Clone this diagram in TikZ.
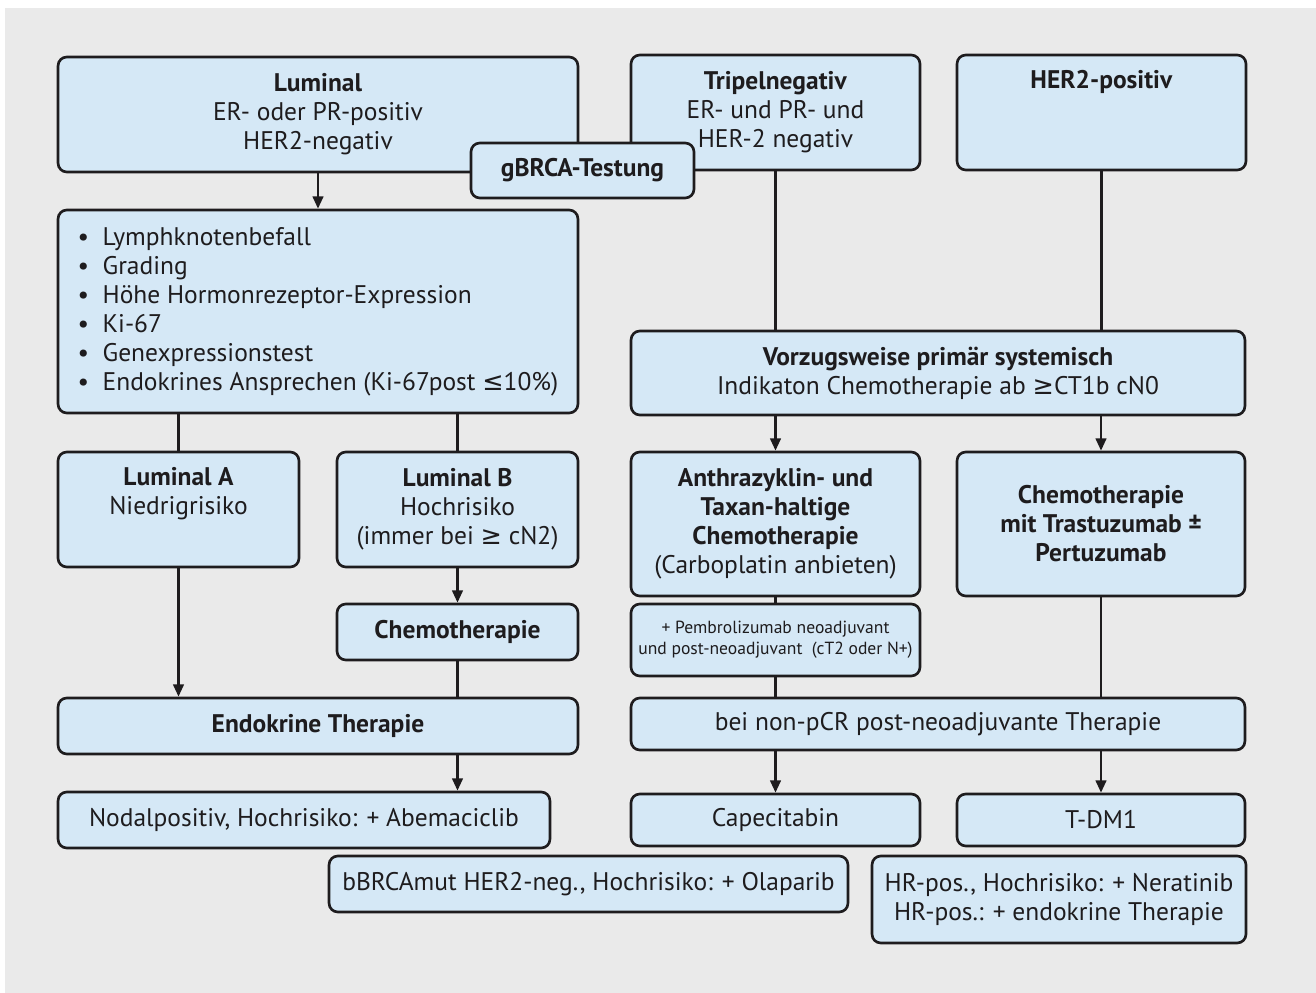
\documentclass[tikz,border=0pt]{standalone}
\usepackage{fontspec}
\setmainfont{PT Sans}
\newfontfamily\symfont{DejaVu Sans}
\usetikzlibrary{arrows.meta}
\definecolor{boxblue}{RGB}{213,232,246}
\definecolor{bggray}{RGB}{234,234,234}
\definecolor{ink}{RGB}{30,28,30}
\tikzset{
  box/.style={draw=ink, fill=boxblue, rounded corners=5pt, line width=1.5pt, align=center,
    inner sep=2pt, text=ink, font=\fontsize{14.5}{16.5}\selectfont},
  conn/.style={draw=ink, line width=1.4pt},
  arr/.style={conn, -{Triangle[length=7pt,width=6pt]}}
}
\begin{document}
\begin{tikzpicture}[x=0.02cm,y=-0.02cm]
\fill[white] (0,0) rectangle (1316,993);
\fill[bggray] (5,8) rectangle (1316,993);
\useasboundingbox (0,0) rectangle (1316,993);

\node (lum) [box, minimum width=10.4cm, minimum height=2.3cm] at (318,114.5) {\textbf{Luminal}\\ER- oder PR-positiv\\HER2-negativ};
\node (tripel) [box, minimum width=5.78cm, minimum height=2.3cm] at (775.5,112.5) {\textbf{Tripelnegativ}\\ER- und PR- und\\HER-2 negativ};
\node (her2) [box, minimum width=5.78cm, minimum height=2.3cm] at (1101.5,112.5) {\textbf{HER2-positiv}\\ \strut\\ \strut};
\node (gbrca) [box, minimum width=4.46cm, minimum height=1.1cm] at (582.5,170.5) {\textbf{gBRCA-Testung}};
\node (crit) [box, align=left, minimum width=10.4cm, minimum height=4.06cm] at (318,311.5) {%
  \makebox[0.5cm][l]{\textbullet}Lymphknotenbefall\\
  \makebox[0.5cm][l]{\textbullet}Grading\\
  \makebox[0.5cm][l]{\textbullet}Höhe Hormonrezeptor-Expression\\
  \makebox[0.5cm][l]{\textbullet}Ki-67\\
  \makebox[0.5cm][l]{\textbullet}Genexpressionstest\\
  \makebox[0.5cm][l]{\textbullet}Endokrines Ansprechen (Ki-67post {\symfont ≤}10\%)};
\node (vorz) [box, minimum width=12.28cm, minimum height=1.68cm] at (938,373) {\textbf{Vorzugsweise primär systemisch}\\Indikaton Chemotherapie ab {\symfont ≥}CT1b cN0};
\node (luma) [box, minimum width=4.82cm, minimum height=2.3cm] at (178.5,509.5) {\textbf{Luminal A}\\Niedrigrisiko\\ \strut};
\node (lumb) [box, minimum width=4.82cm, minimum height=2.3cm] at (457.5,509.5) {\textbf{Luminal B}\\Hochrisiko\\(immer bei {\symfont ≥} cN2)};
\node (anth) [box, minimum width=5.78cm, minimum height=2.88cm] at (775.5,524) {\textbf{Anthrazyklin- und}\\\textbf{Taxan-haltige}\\\textbf{Chemotherapie}\\(Carboplatin anbieten)};
\node (trast) [box, minimum width=5.76cm, minimum height=2.88cm] at (1101,524) {\textbf{Chemotherapie}\\\textbf{mit Trastuzumab ±}\\\textbf{Pertuzumab}};
\node (chemo) [box, minimum width=4.82cm, minimum height=1.12cm] at (457.5,632) {\textbf{Chemotherapie}};
\node (pembro) [box, minimum width=5.78cm, minimum height=1.44cm, font=\fontsize{10}{12}\selectfont] at (775.5,640) {+ Pembrolizumab neoadjuvant\\und post-neoadjuvant\ \ (cT2 oder N+)};
\node (endo) [box, minimum width=10.4cm, minimum height=1.12cm] at (318,726) {\textbf{Endokrine Therapie}};
\node (pcr) [box, minimum width=12.28cm, minimum height=1.04cm] at (938,724) {bei non-pCR post-neoadjuvante Therapie};
\node (nodal) [box, minimum width=9.84cm, minimum height=1.12cm] at (304,820) {Nodalpositiv, Hochrisiko: + Abemaciclib};
\node (cape) [box, minimum width=5.78cm, minimum height=1.04cm] at (775.5,820) {Capecitabin};
\node (tdm) [box, minimum width=5.76cm, minimum height=1.04cm] at (1101,820) {T-DM1};
\node (olap) [box, minimum width=10.38cm, minimum height=1.12cm] at (588.5,884) {bBRCAmut HER2-neg., Hochrisiko: + Olaparib};
\node (nera) [box, minimum width=7.48cm, minimum height=1.74cm] at (1059,899.5) {HR-pos., Hochrisiko: + Neratinib\\HR-pos.: + endokrine Therapie};

% Arrows
\draw[arr] (lum) -- (crit);
\draw[conn] (crit.south -| luma) -- (luma);
\draw[conn] (crit.south -| lumb) -- (lumb);
\draw[arr] (luma) -- (endo.north -| luma);
\draw[arr] (lumb) -- (chemo);
\draw[conn] (chemo) -- (endo.north -| chemo);
\draw[arr] (endo.south -| chemo) -- (nodal.north -| chemo);
\draw[conn] (tripel) -- (vorz.north -| tripel);
\draw[conn] (her2) -- (vorz.north -| her2);
\draw[arr] (vorz.south -| anth) -- (anth);
\draw[arr] (vorz.south -| trast) -- (trast);
\draw[conn] (anth) -- (pembro);
\draw[conn] (pembro) -- (pcr.north -| pembro);
\draw[conn] (trast) -- (pcr.north -| trast);
\draw[arr] (pcr.south -| cape) -- (cape);
\draw[arr] (pcr.south -| tdm) -- (tdm);
\end{tikzpicture}
\end{document}
